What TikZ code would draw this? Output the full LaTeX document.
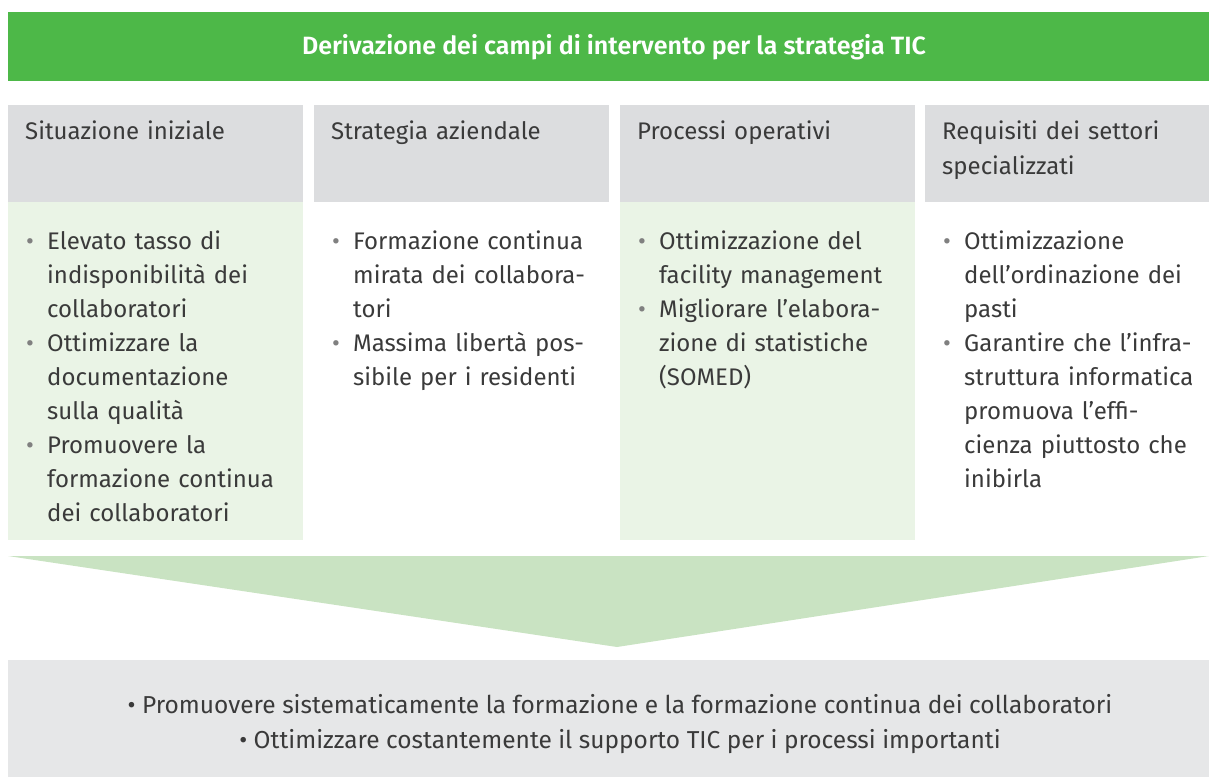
\documentclass[tikz,border=0pt]{standalone}
\usepackage{fontspec}
\setmainfont{Fira Sans}[BoldFont=* SemiBold]
\usetikzlibrary{positioning}

\definecolor{titlegreen}{HTML}{4DB848}
\definecolor{headgrey}{HTML}{DCDDDF}
\definecolor{bodygreen}{HTML}{EAF4E6}
\definecolor{arrowgreen}{HTML}{C9E3C2}
\definecolor{footgrey}{HTML}{E6E7E8}
\definecolor{textgrey}{HTML}{3A3A3A}
\definecolor{bulletgrey}{HTML}{808080}

\newcommand{\bodyfont}{\fontsize{24}{34}\selectfont}
\newcommand{\headfont}{\fontsize{24}{35}\selectfont}
% bullet item, continuation lines hang under the text
\newcommand{\itm}[1]{\par\noindent\makebox[21pt][l]{\textcolor{bulletgrey}{\textbullet}}%
    \parbox[t]{300pt}{\bodyfont\raggedright\strut#1\strut}}

\begin{document}
\begin{tikzpicture}[x=1pt, y=-1pt,
        % STYLES
        title_bar/.style={rectangle, fill=titlegreen, anchor=north west, inner sep=0pt, minimum width=1201pt, minimum height=69pt},
        head_box/.style={rectangle, fill=headgrey, anchor=north west, inner sep=0pt, minimum width=295pt, minimum height=97pt},
        body_box/.style={rectangle, anchor=north west, inner sep=0pt, minimum width=295pt, minimum height=338pt},
        foot_box/.style={rectangle, fill=footgrey, anchor=north west, inner sep=0pt, minimum width=1201pt, minimum height=124pt},
        % TEXTS
        title_text/.style={text=white, inner sep=0pt, font=\bfseries\fontsize{25}{28}\selectfont},
        head_text/.style={anchor=north west, inner sep=0pt, text width=270pt, align=left, text=textgrey, font=\headfont},
        item_list/.style={anchor=north west, inner sep=0pt, text width=275pt, align=left, text=textgrey, font={\bodyfont\lineskip=0pt}},
        foot_text/.style={anchor=north, inner sep=0pt, align=center, text=textgrey, font=\fontsize{24.5}{35}\selectfont}
    ]
    \useasboundingbox (0,0) rectangle (1209,776);

    % ===================================
    % 1. Title
    % ===================================
    \node[title_bar] (title) at (8,12) {};
    \node[title_text] (titletxt) at (614,47) {Derivazione dei campi di intervento per la strategia TIC};

    % ===================================
    % 2. Columns
    % ===================================
    \node[head_box] (h1) at (8,105) {};
    \node[head_box] (h2) at (314,105) {};
    \node[head_box] (h3) at (620,105) {};
    \node[head_box, minimum width=284pt] (h4) at (925,105) {};

    \node[body_box, fill=bodygreen] (b1) at (8,202) {};
    \node[body_box] (b2) at (314,202) {};
    \node[body_box, fill=bodygreen] (b3) at (620,202) {};
    \node[body_box, minimum width=284pt] (b4) at (925,202) {};

    % --- Headings ---
    \node[head_text, below right=10pt and 17pt of h1.north west] (t1) {\strut Situazione iniziale};
    \node[head_text, below right=10pt and 17pt of h2.north west] (t2) {\strut Strategia aziendale};
    \node[head_text, below right=10pt and 17pt of h3.north west] (t3) {\strut Processi operativi};
    \node[head_text, below right=10pt and 17pt of h4.north west] (t4) {\strut Requisiti dei settori\\specializzati};

    % --- Items ---
    \node[item_list, below right=13pt and 18pt of b1.north west] (l1) {%
        \itm{Elevato tasso di\\indisponibilità dei\\collaboratori}
        \itm{Ottimizzare la\\documentazione\\sulla qualità}
        \itm{Promuovere la\\formazione continua\\dei collaboratori}};
    \node[item_list, below right=13pt and 18pt of b2.north west] (l2) {%
        \itm{Formazione continua\\mirata dei collabora-\\tori}
        \itm{Massima libertà pos-\\sibile per i residenti}};
    \node[item_list, below right=13pt and 18pt of b3.north west] (l3) {%
        \itm{Ottimizzazione del\\facility management}
        \itm{Migliorare l’elabora-\\zione di statistiche\\(SOMED)}};
    \node[item_list, below right=13pt and 18pt of b4.north west] (l4) {%
        \itm{Ottimizzazione\\dell’ordinazione dei\\pasti}
        \itm{Garantire che l’infra-\\struttura informatica\\promuova l’effi-\\cienza piuttosto che\\inibirla}};

    % ===================================
    % 3. Arrow and result
    % ===================================
    \fill[arrowgreen] (8,556) -- (1209,556) -- (617,647) -- cycle;

    \node[foot_box] (foot) at (8,660) {};
    \node[foot_text] (result) at (620,689) {\strut\textbullet{} Promuovere sistematicamente la formazione e la formazione continua dei collaboratori\\
        \strut\textbullet{} Ottimizzare costantemente il supporto TIC per i processi importanti};

\end{tikzpicture}
\end{document}
